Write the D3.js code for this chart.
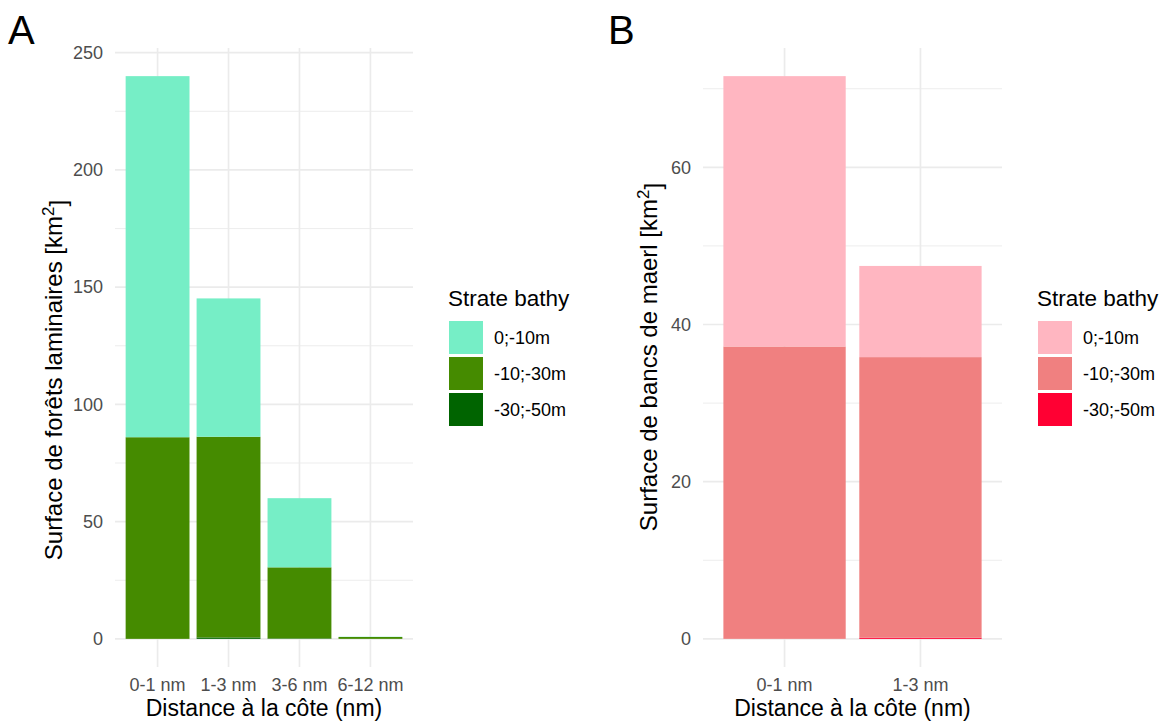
<!DOCTYPE html>
<html>
<head>
<meta charset="utf-8">
<script src="https://cdn.jsdelivr.net/npm/d3@7"></script>
<style>
  html, body { margin: 0; padding: 0; background: #fff; }
  svg { display: block; font-family: "Liberation Sans", Arial, Helvetica, sans-serif; }
</style>
</head>
<body>
<svg id="chart" width="1165" height="721"></svg>
<script>
// ---------- DATA ----------
const strata = ["0;-10m", "-10;-30m", "-30;-50m"];

const catsA = ["0-1 nm", "1-3 nm", "3-6 nm", "6-12 nm"];
const laminaires_0_10 = [154, 59, 29.5, 0.1];
const laminaires_10_30 = [86, 85.6, 30.3, 0.8];
const laminaires_30_50 = [0, 0.6, 0.2, 0];
const ticksA = [0, 50, 100, 150, 200, 250];
const minorTicksA = [25, 75, 125, 175, 225];
const colorsA = ["#76EEC6", "#458B00", "#006400"];

const catsB = ["0-1 nm", "1-3 nm"];
const maerl_0_10 = [34.4, 11.6];
const maerl_10_30 = [37.2, 35.7];
const maerl_30_50 = [0, 0.15];
const ticksB = [0, 20, 40, 60];
const minorTicksB = [10, 30, 50, 70];
const colorsB = ["#FFB6C1", "#F08080", "#FF0033"];

const xTitle = "Distance à la côte (nm)";
const yTitleA = "Surface de forêts laminaires [km";
const yTitleB = "Surface de bancs de maerl [km";
const legendTitle = "Strate bathy";

// ---------- DRAW ----------
const svg = d3.select("#chart");

function panel(opts) {
  const { letter, letterX, cats, series, colors, ticks, minor, left, right,
          yTitle, yTitleX, yTitleY, legendX } = opts;
  const top = 48, bottom = 667;
  const g = svg.append("g");

  const rows = cats.map((c, i) => {
    const r = { cat: c };
    strata.forEach((s, k) => r[s] = series[k][i]);
    return r;
  });
  // stack: last stratum at bottom, first on top (ggplot order)
  const stackKeys = strata.slice().reverse();
  const stacked = d3.stack().keys(stackKeys)(rows);
  const maxTotal = d3.max(rows, r => d3.sum(strata, s => r[s]));

  const x = d3.scaleBand().domain(cats).range([left, right])
    .paddingInner(0.1).paddingOuter(0.15);
  const y = d3.scaleLinear().domain([-0.05 * maxTotal, 1.05 * maxTotal]).range([bottom, top]);

  // minor grid
  g.selectAll(".minor").data(minor).join("line")
    .attr("x1", left).attr("x2", right)
    .attr("y1", d => y(d)).attr("y2", d => y(d))
    .attr("stroke", "#EBEBEB").attr("stroke-width", 0.9);
  // major grid horizontal
  g.selectAll(".major").data(ticks).join("line")
    .attr("x1", left).attr("x2", right)
    .attr("y1", d => y(d)).attr("y2", d => y(d))
    .attr("stroke", "#EBEBEB").attr("stroke-width", 1.7);
  // major grid vertical
  g.selectAll(".vmajor").data(cats).join("line")
    .attr("x1", d => x(d) + x.bandwidth() / 2).attr("x2", d => x(d) + x.bandwidth() / 2)
    .attr("y1", top).attr("y2", bottom)
    .attr("stroke", "#EBEBEB").attr("stroke-width", 1.7);

  // bars
  const colorOf = d3.scaleOrdinal().domain(strata).range(colors);
  g.selectAll(".layer").data(stacked).join("g")
    .attr("fill", d => colorOf(d.key))
    .selectAll("rect").data(d => d).join("rect")
    .attr("x", d => x(d.data.cat))
    .attr("width", x.bandwidth())
    .attr("y", d => y(d[1]))
    .attr("height", d => Math.max(0, y(d[0]) - y(d[1])));

  // y axis
  const ya = g.append("g").attr("transform", `translate(${left},0)`)
    .call(d3.axisLeft(y).tickValues(ticks).tickSize(0).tickPadding(12).tickFormat(d3.format("d")));
  ya.select(".domain").remove();
  ya.selectAll("text").attr("fill", "#4D4D4D").style("font-size", "18px")
    .style("font-family", '"Liberation Sans", Arial, sans-serif');

  // x axis
  const xa = g.append("g").attr("transform", `translate(0,${bottom})`)
    .call(d3.axisBottom(x).tickSize(0).tickPadding(11));
  xa.select(".domain").remove();
  xa.selectAll("text").attr("fill", "#4D4D4D").style("font-size", "18px")
    .style("font-family", '"Liberation Sans", Arial, sans-serif');

  // x title
  g.append("text").attr("x", (left + right) / 2).attr("y", 716)
    .attr("text-anchor", "middle").attr("fill", "#000")
    .style("font-size", "23px").text(xTitle);

  // y title
  const yt = g.append("text")
    .attr("transform", `translate(${yTitleX},${yTitleY}) rotate(-90)`)
    .attr("text-anchor", "middle").attr("fill", "#000")
    .style("font-size", "24px");
  yt.append("tspan").text(yTitle);
  yt.append("tspan").attr("dy", "-0.5em").style("font-size", "17px").text("2");
  yt.append("tspan").attr("dy", "0.5em").text("]");

  // panel letter
  g.append("text").attr("x", letterX).attr("y", 44).attr("fill", "#000")
    .style("font-size", "40px").text(letter);

  // legend
  const lg = g.append("g").attr("transform", `translate(${legendX},0)`);
  lg.append("text").attr("x", 0).attr("y", 306).attr("fill", "#000")
    .style("font-size", "22.5px").text(legendTitle);
  const items = lg.selectAll(".item").data(strata).join("g")
    .attr("transform", (d, i) => `translate(0,${321 + i * 36})`);
  items.append("rect").attr("x", 1).attr("y", 0).attr("width", 34).attr("height", 33)
    .attr("fill", d => colorOf(d));
  items.append("text").attr("x", 46).attr("y", 16.5).attr("dy", "0.35em")
    .attr("fill", "#000").style("font-size", "18px").text(d => d);
}

panel({
  letter: "A", letterX: 8, cats: catsA,
  series: [laminaires_0_10, laminaires_10_30, laminaires_30_50],
  colors: colorsA, ticks: ticksA, minor: minorTicksA,
  left: 115, right: 413, yTitle: yTitleA, yTitleX: 62, yTitleY: 380, legendX: 448
});

panel({
  letter: "B", letterX: 608, cats: catsB,
  series: [maerl_0_10, maerl_10_30, maerl_30_50],
  colors: colorsB, ticks: ticksB, minor: minorTicksB,
  left: 703, right: 1002, yTitle: yTitleB, yTitleX: 657, yTitleY: 357, legendX: 1037
});
</script>
</body>
</html>
